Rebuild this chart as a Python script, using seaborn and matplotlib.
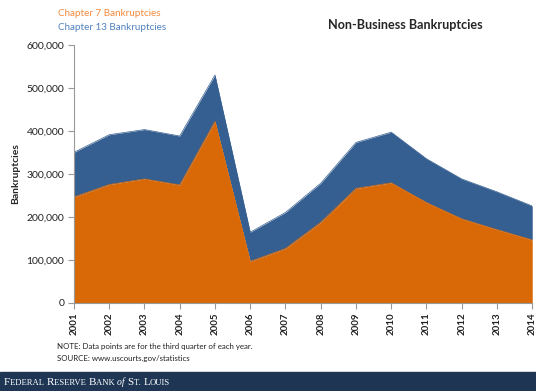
import numpy as np
import pandas as pd
import matplotlib.pyplot as plt
import seaborn as sns
from matplotlib.ticker import FuncFormatter
from matplotlib.patches import Rectangle

# data (third quarter of each year)
years = list(range(2001, 2015))
chapter7 = [246000, 275000, 288000, 274000, 422000, 96000, 126000,
            187000, 266000, 279000, 233000, 195000, 170000, 146000]
chapter13 = [104000, 116000, 115000, 114000, 108000, 68000, 84000,
             91000, 107000, 118000, 102000, 93000, 88000, 79000]

df = pd.DataFrame({'year': years, 'ch7': chapter7, 'ch13': chapter13})
df['total'] = df['ch7'] + df['ch13']

sns.set_style("white")
plt.rcParams['font.family'] = ['Lato', 'DejaVu Sans']

orange = '#D96907'
blue = '#365F91'

fig = plt.figure(figsize=(5.36, 3.91), dpi=100)
ax = fig.add_axes([0.138, 0.226, 0.855, 0.659])

ax.fill_between(df['year'], df['ch7'], df['total'], color=blue, lw=0)
ax.fill_between(df['year'], 0, df['ch7'], color=orange, lw=0)
sns.lineplot(x='year', y='total', data=df, ax=ax, color=blue, lw=0.5)
sns.lineplot(x='year', y='ch7', data=df, ax=ax, color=orange, lw=0.5)

ax.set_xlim(2001, 2014)
ax.set_ylim(0, 600000)
ax.set_xticks(years)
ax.set_xticklabels([str(y) for y in years], rotation=90, fontsize=7,
                   fontweight='bold', color='#222222', va='top')
ax.set_yticks(range(0, 600001, 100000))
ax.yaxis.set_major_formatter(FuncFormatter(lambda v, p: f'{int(v):,}'))
ax.tick_params(axis='y', labelsize=7.5, colors='#222222')
ax.tick_params(axis='both', which='major', direction='out', length=4,
               width=0.8, color='#999999', bottom=True, left=True, pad=3)
for s in ['top', 'right']:
    ax.spines[s].set_visible(False)
for s in ['left', 'bottom']:
    ax.spines[s].set_color('#999999')
    ax.spines[s].set_linewidth(0.8)
ax.set_xlabel('')
ax.set_ylabel('Bankruptcies', fontsize=7.5, fontweight='bold')
ax.yaxis.set_label_coords(-0.118, 0.5)

# legend text and title
fig.text(58 / 536, 1 - 13 / 391, 'Chapter 7 Bankruptcies', color='#F58A3C',
         fontsize=7.1, va='center')
fig.text(58 / 536, 1 - 27 / 391, 'Chapter 13 Bankruptcies', color='#4F81BD',
         fontsize=7.1, va='center')
fig.text(405 / 536, 1 - 25 / 391, 'Non-Business Bankruptcies', fontsize=9.1,
         fontweight='bold', ha='center', va='center')

# notes
fig.text(57 / 536, 1 - 347 / 391,
         'NOTE: Data points are for the third quarter of each year.',
         fontsize=5.7, va='center', color='#222222')
fig.text(57 / 536, 1 - 358 / 391, 'SOURCE: www.uscourts.gov/statistics',
         fontsize=5.7, va='center', color='#222222')

# footer band with small-caps style bank name
fig.patches.append(Rectangle((0, 0), 1, 19 / 391, transform=fig.transFigure,
                             color='#1E3654', zorder=0))
pieces = [('F', 8, 'normal'), ('EDERAL ', 6.2, 'normal'),
          ('R', 8, 'normal'), ('ESERVE ', 6.2, 'normal'),
          ('B', 8, 'normal'), ('ANK ', 6.2, 'normal'),
          ('of ', 7, 'italic'),
          ('S', 8, 'normal'), ('T. ', 6.2, 'normal'),
          ('L', 8, 'normal'), ('OUIS', 6.2, 'normal')]
renderer = fig.canvas.get_renderer()
x = 4.0
for txt, size, style in pieces:
    t = fig.text(x / 536, 6 / 391, txt, color='white', fontsize=size,
                 style=style, va='baseline', family='Liberation Serif')
    ext = t.get_window_extent(renderer)
    x += ext.width
    if txt.endswith(' '):
        x += 0.5

fig.savefig('out.png', dpi=100)
